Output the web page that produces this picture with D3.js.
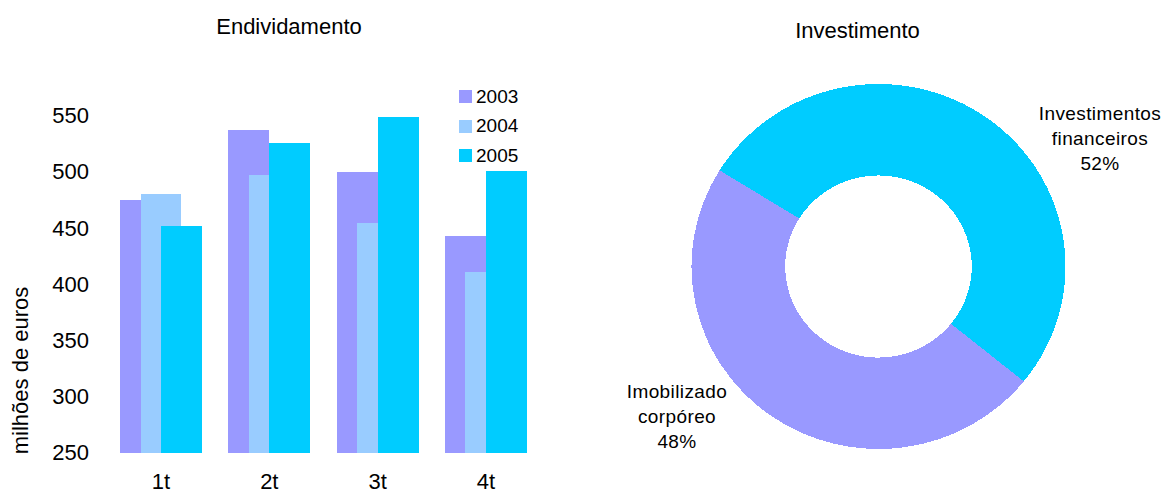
<!DOCTYPE html>
<html>
<head>
<meta charset="utf-8">
<script src="https://cdn.jsdelivr.net/npm/d3@7"></script>
<style>
  html, body { margin: 0; padding: 0; background: #fff; }
  svg { display: block; font-family: "Liberation Sans", Arial, sans-serif; }
</style>
</head>
<body>
<svg id="chart" width="1166" height="493"></svg>
<script>
// ---- Data: bar chart (Endividamento) ----
const quarters = ["1t", "2t", "3t", "4t"];
const seriesNames = ["2003", "2004", "2005"];
const values2003 = [474, 537, 499, 442];
const values2004 = [480, 497, 454, 410];
const values2005 = [451, 525, 548, 500];
const yTicks = [250, 300, 350, 400, 450, 500, 550];

// ---- Data: doughnut (Investimento) ----
const sliceLabels = [["Imobilizado", "corpóreo", "48%"], ["Investimentos", "financeiros", "52%"]];
const sliceValues = [48, 52];

const colors = ["#9999FF", "#99CCFF", "#00CCFF"];
const sliceColors = ["#9999FF", "#00CCFF"];

const svg = d3.select("#chart");

// ================= Bar chart =================
const seriesValues = [values2003, values2004, values2005];

const x = d3.scaleBand().domain(quarters)
  .range([106.85, 540.05]).paddingInner(0.243).paddingOuter(0.1215);
const y = d3.scaleLinear().domain([250, 550]).range([452, 115]);

const bw = x.bandwidth();
const barW = bw / 2;
const offset = i => i * bw / 4;

const barG = svg.append("g");
seriesValues.forEach((vals, si) => {
  barG.selectAll(null).data(vals).enter().append("rect")
    .attr("x", (d, i) => x(quarters[i]) + offset(si))
    .attr("y", d => y(d))
    .attr("width", barW)
    .attr("height", d => y(250) - y(d) + 0.7)
    .attr("fill", colors[si])
    .attr("shape-rendering", "crispEdges");
});

// Y axis (labels only, no line)
const yAxis = d3.axisLeft(y).tickValues(yTicks).tickSize(0).tickPadding(0);
const yAxisG = svg.append("g").attr("transform", "translate(89,0)").call(yAxis);
yAxisG.select(".domain").remove();
yAxisG.selectAll("text")
  .attr("font-size", "22px").attr("fill", "#000")
  .attr("font-family", "'Liberation Sans', Arial, sans-serif")
  .attr("dy", "0.35em");

// X axis (labels only)
const xAxis = d3.axisBottom(x).tickSize(0).tickPadding(0);
const xAxisG = svg.append("g").attr("transform", "translate(0,489)").call(xAxis);
xAxisG.select(".domain").remove();
xAxisG.selectAll("text")
  .attr("font-size", "22px").attr("fill", "#000")
  .attr("font-family", "'Liberation Sans', Arial, sans-serif")
  .attr("dy", "0");

// Y label
svg.append("text")
  .attr("transform", "translate(28,370.5) rotate(-90)")
  .attr("text-anchor", "middle")
  .attr("font-size", "22px")
  .text("milhões de euros");

// Title
svg.append("text")
  .attr("x", 289).attr("y", 34)
  .attr("text-anchor", "middle")
  .attr("font-size", "22px")
  .text("Endividamento");

// Legend
const legend = svg.append("g");
seriesNames.forEach((name, i) => {
  const ly = 90 + i * 29.5;
  legend.append("rect")
    .attr("x", 459).attr("y", ly).attr("width", 13).attr("height", 13)
    .attr("fill", colors[i]).attr("shape-rendering", "crispEdges");
  legend.append("text")
    .attr("x", 476).attr("y", ly + 12.5)
    .attr("font-size", "19px")
    .text(name);
});

// ================= Doughnut =================
const cx = 878.5, cy = 266.5;
const outerR = 187, innerR = 93.3;
const startA = 129 * Math.PI / 180;

const pie = d3.pie().sort(null).value(d => d)
  .startAngle(startA).endAngle(startA + 2 * Math.PI);
const arc = d3.arc().innerRadius(innerR).outerRadius(outerR);

const pieG = svg.append("g")
  .attr("transform", `translate(${cx},${cy}) scale(1,0.976)`);
pieG.selectAll("path").data(pie(sliceValues)).enter().append("path")
  .attr("d", arc)
  .attr("fill", (d, i) => sliceColors[i])
  .attr("shape-rendering", "crispEdges");

svg.append("text")
  .attr("x", 857.5).attr("y", 38)
  .attr("text-anchor", "middle")
  .attr("font-size", "22px")
  .text("Investimento");

// Slice labels
const labelPos = [{x: 677, y: 398}, {x: 1100, y: 120}];
sliceLabels.forEach((lines, i) => {
  const t = svg.append("text")
    .attr("text-anchor", "middle")
    .attr("font-size", "19px")
    .attr("letter-spacing", "0.4px");
  lines.forEach((ln, j) => {
    t.append("tspan")
      .attr("x", labelPos[i].x)
      .attr("y", labelPos[i].y + j * 25)
      .text(ln);
  });
});
</script>
</body>
</html>
